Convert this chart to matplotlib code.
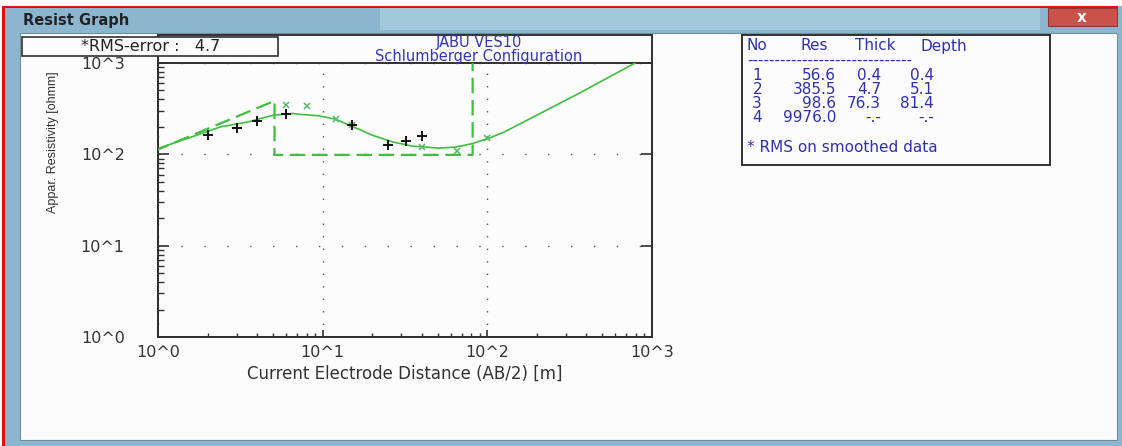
import matplotlib
matplotlib.use("Agg")
from matplotlib import pyplot as plt
from matplotlib.patches import Rectangle
from matplotlib.ticker import FixedLocator, LogLocator, NullFormatter

W, H = 1122, 446

# measured apparent resistivity (black +)
ab2_meas = [2.0, 3.0, 4.0, 6.0, 15, 25, 32, 40]
rho_meas = [162, 194, 232, 273, 208, 128, 140, 158]
# smoothed data (green x)
ab2_smooth = [6, 8, 12, 15, 40, 65, 100]
rho_smooth = [345, 340, 243, 208, 119, 109, 151]
# calculated curve (solid green)
curve_ab2 = [1.0, 1.5, 2.4, 3.5, 5.0, 6.6, 7.1, 9.5, 11.9, 15.1, 20, 26.5, 35, 51, 64, 81, 103, 127, 364, 790]
curve_rho = [116, 149, 200, 226, 268, 280, 275, 264, 243, 203, 162, 137, 123, 117, 120, 131, 151, 176, 470, 1000]
# layered model (dashed green)
model_depth = [0.4, 5.1, 5.1, 81.4, 81.4]
model_rho = [56.6, 385.5, 98.6, 98.6, 9976.0]

# layer table
layer_no = ["1", "2", "3", "4"]
layer_res = ["56.6", "385.5", "98.6", "9976.0"]
layer_thick = ["0.4", "4.7", "76.3", "-.-"]
layer_depth = ["0.4", "5.1", "81.4", "-.-"]

rms_error = 4.7
tick_labels = ["10^0", "10^1", "10^2", "10^3"]

plt.rcParams['font.family'] = ['DejaVu Sans']


def fx(px):
    return px / W


def fy(py):
    return 1 - py / H


def box(fig, x0, y0, x1, y1, **kw):
    r = Rectangle((fx(x0), fy(y1)), fx(x1) - fx(x0), fy(y0) - fy(y1), transform=fig.transFigure, **kw)
    fig.add_artist(r)
    return r


fig = plt.figure(figsize=(W / 100, H / 100), dpi=100)
fig.patch.set_facecolor('white')

# window chrome
box(fig, 3, 6, 1122, 446, facecolor='#8cb6cf', edgecolor='none', zorder=0)
box(fig, 3, 6, 1118, 8, facecolor='#e01010', edgecolor='none', zorder=1)
box(fig, 2, 6, 5, 446, facecolor='#e01010', edgecolor='none', zorder=1)
box(fig, 380, 8, 1040, 30, facecolor='#b4d6e6', edgecolor='none', zorder=0.5, alpha=0.6)
box(fig, 20, 33, 1117, 440, facecolor='#fcfcfc', edgecolor='#6f8fa0', linewidth=0.8, zorder=1)
box(fig, 1048, 8, 1117, 26, facecolor='#c9524b', edgecolor='#8a3b35', linewidth=0.8, zorder=1)
fig.text(fx(1082), fy(17), "x", color='white', fontsize=11, fontweight='bold', ha='center', va='center', zorder=2)
fig.text(fx(23), fy(20), "Resist Graph", color='#222222', fontsize=10.5, fontweight='bold', ha='left', va='center', zorder=2)

# plot frame including title area
box(fig, 158, 35, 652, 337, facecolor='none', edgecolor='#303030', linewidth=1.4, zorder=3)
fig.text(fx(479), fy(49.5), "JABU VES10\nSchlumberger Configuration", color='#3535b5', fontsize=10.5,
         linespacing=0.95, ha='center', va='center', multialignment='center', zorder=4)

# rms box
box(fig, 22, 37, 278, 56, facecolor='#fcfcfc', edgecolor='#303030', linewidth=1.2, zorder=5)
fig.text(fx(151), fy(46.5), f"*RMS-error :   {rms_error}", color='#222222', fontsize=11.5, ha='center', va='center', zorder=6)

ax = fig.add_axes([fx(158), fy(337), fx(652) - fx(158), fy(63) - fy(337)])
ax.set_zorder(4)
ax.set_facecolor('none')
ax.set_xscale('log')
ax.set_yscale('log')
ax.set_xlim(1, 1000)
ax.set_ylim(1, 1000)

for s in ax.spines.values():
    s.set_color('#303030')
    s.set_linewidth(1.4)

ax.xaxis.set_major_locator(FixedLocator([1, 10, 100, 1000]))
ax.yaxis.set_major_locator(FixedLocator([1, 10, 100, 1000]))
ax.xaxis.set_minor_locator(LogLocator(base=10, subs=range(2, 10)))
ax.yaxis.set_minor_locator(LogLocator(base=10, subs=range(2, 10)))
ax.xaxis.set_minor_formatter(NullFormatter())
ax.yaxis.set_minor_formatter(NullFormatter())
ax.set_xticklabels(tick_labels)
ax.set_yticklabels(tick_labels)
ax.tick_params(axis='both', which='both', direction='in', color='#303030', labelcolor='#333333', labelsize=11.5)
ax.tick_params(axis='y', which='major', length=8, width=1.2, pad=24, right=True)
ax.tick_params(axis='y', which='minor', length=4, width=1.0)
ax.tick_params(axis='x', which='major', length=5, width=1.2, pad=6)
ax.tick_params(axis='x', which='minor', length=3, width=1.0)

ax.xaxis.grid(True, which='major', color='#555555', linewidth=1.0, linestyle=(0, (1, 8)))
ax.yaxis.grid(True, which='major', color='#555555', linewidth=1.0, linestyle=(0, (1, 15.5)))

ax.plot(model_depth, model_rho, color='#3fbf3f', linewidth=1.6, linestyle=(0, (7, 3)), zorder=3)
ax.plot(curve_ab2, curve_rho, color='#3fbf3f', linewidth=1.2, zorder=4)
ax.plot(ab2_smooth, rho_smooth, linestyle='none', marker='x', color='#55b866', markersize=5, markeredgewidth=1.1, zorder=5)
ax.plot(ab2_meas, rho_meas, linestyle='none', marker='+', color='#111111', markersize=7.5, markeredgewidth=1.4, zorder=6)

ax.set_xlabel("Current Electrode Distance (AB/2) [m]", fontsize=12, color='#333333', labelpad=3)
fig.text(fx(53), fy(142), "Appar. Resistivity [ohmm]", rotation=90, color='#333333', fontsize=9,
         family=['Liberation Sans Narrow', 'Liberation Sans', 'DejaVu Sans'], ha='center', va='center')

# layer table
box(fig, 742, 35, 1050, 165, facecolor='#fcfcfc', edgecolor='#303030', linewidth=1.4, zorder=3)
blue = '#2f2fb0'
tkw = dict(color=blue, fontsize=11, va='center', zorder=4)
fig.text(fx(747), fy(46), "No", ha='left', **tkw)
fig.text(fx(800), fy(46), "Res", ha='left', **tkw)
fig.text(fx(855), fy(46), "Thick", ha='left', **tkw)
fig.text(fx(920), fy(46), "Depth", ha='left', **tkw)
fig.text(fx(747), fy(60), "-" * 30, ha='left', **tkw)
for i in range(len(layer_no)):
    yy = fy(76 + i * 14)
    fig.text(fx(762), yy, layer_no[i], ha='right', **tkw)
    fig.text(fx(836), yy, layer_res[i], ha='right', **tkw)
    fig.text(fx(881), yy, layer_thick[i], ha='right', **tkw)
    fig.text(fx(934), yy, layer_depth[i], ha='right', **tkw)
fig.text(fx(747), fy(147), "* RMS on smoothed data", ha='left', **tkw)

plt.savefig("out.png", dpi=100)
